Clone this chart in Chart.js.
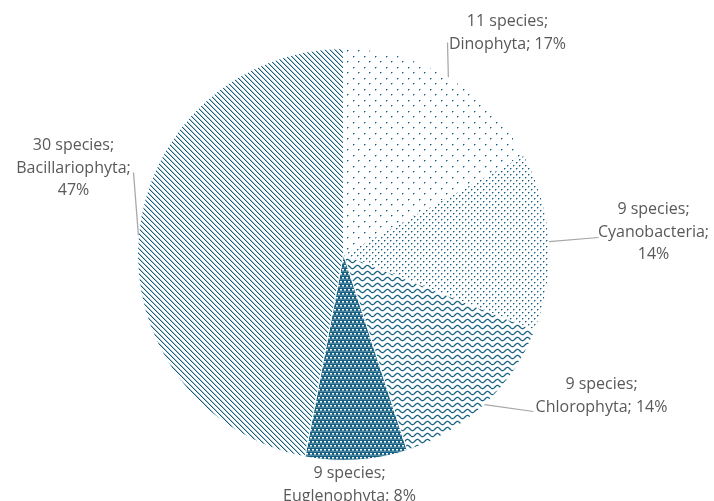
<!DOCTYPE html>
<html>
<head>
<meta charset="utf-8">
<script src="https://cdn.jsdelivr.net/npm/chart.js@4.4.1/dist/chart.umd.min.js"></script>
<style>
  html, body { margin: 0; padding: 0; background: #ffffff; }
  #wrap { width: 714px; height: 501px; position: relative; }
</style>
</head>
<body>
<div id="wrap"><canvas id="chart" width="714" height="501"></canvas></div>
<script>
// Phytoplankton groups, clockwise from 12 o'clock
const groups = ['Dinophyta', 'Cyanobacteria', 'Chlorophyta', 'Euglenophyta', 'Bacillariophyta'];
// Number of species stated in each label
const speciesCounts = [11, 9, 9, 9, 30];
// Share of each group, in percent (slice sizes)
const sharePercent = [17, 14, 14, 8, 47];
// Whether the percentage goes on its own line in the label
const percentOnOwnLine = [false, true, false, false, true];

const INK = '#156082';
const INK_SOFT = 'rgba(21,96,130,0.45)';
const TEXT = '#595959';
const LEADER = '#a6a6a6';

const canvas = document.getElementById('chart');
const ctx = canvas.getContext('2d');

function tile(w, h, paint) {
  const c = document.createElement('canvas');
  c.width = w; c.height = h;
  const g = c.getContext('2d');
  paint(g, w, h);
  return ctx.createPattern(c, 'repeat');
}

// sparse staggered dots
const dotsSparse = tile(11, 11, g => {
  g.fillStyle = INK;
  g.fillRect(1, 1, 1, 1); g.fillRect(6, 6, 1, 1);
  g.fillStyle = INK_SOFT;
  g.fillRect(2, 1, 1, 1); g.fillRect(1, 2, 1, 1);
  g.fillRect(7, 6, 1, 1); g.fillRect(6, 7, 1, 1);
});
// denser staggered dots
const dotsDense = tile(6, 6, g => {
  g.fillStyle = INK;
  g.fillRect(0, 0, 1, 1); g.fillRect(3, 3, 1, 1);
  g.fillStyle = INK_SOFT;
  g.fillRect(1, 0, 1, 1); g.fillRect(0, 1, 1, 1);
  g.fillRect(4, 3, 1, 1); g.fillRect(3, 4, 1, 1);
});
// horizontal waves
const waves = tile(10, 6, g => {
  g.strokeStyle = INK;
  g.lineWidth = 1.3;
  g.beginPath();
  for (let x = -1; x <= 11; x += 0.5) {
    const y = 3 + 1.6 * Math.sin((x / 10) * Math.PI * 2);
    if (x === -1) g.moveTo(x, y); else g.lineTo(x, y);
  }
  g.stroke();
});
// dark fill with light horizontal dashes
const darkDashes = tile(4, 8, g => {
  g.fillStyle = INK;
  g.fillRect(0, 0, 4, 8);
  g.fillStyle = '#ffffff';
  g.fillRect(0, 1, 2, 1); g.fillRect(2, 5, 2, 1);
  g.fillStyle = 'rgba(255,255,255,0.55)';
  g.fillRect(0, 2, 2, 1); g.fillRect(2, 6, 2, 1);
  g.fillStyle = 'rgba(255,255,255,0.25)';
  g.fillRect(0, 3, 4, 1); g.fillRect(0, 7, 4, 1);
});
// downward diagonal stripes
const diagonal = tile(5, 5, g => {
  for (let i = 0; i < 5; i++) {
    g.fillStyle = INK;
    g.fillRect(i, i, 1, 1);
    g.fillStyle = 'rgba(21,96,130,0.35)';
    g.fillRect((i + 1) % 5, i, 1, 1);
  }
});

const fills = [dotsSparse, dotsDense, waves, darkDashes, diagonal];

// Label placement relative to the pie centre: text centre of the first line,
// and where the leader line ends (null = no leader)
const labelLayout = [
  { dx: 164, dy: -233, leader: [104, -212] },
  { dx: 310, dy: -45, leader: [255, -17] },
  { dx: 258, dy: 130, leader: [190, 157] },
  { dx: 6, dy: 219, leader: null },
  { dx: -270, dy: -109, leader: [-210, -82] }
];
const LINE_H = 22.5;

const labelPlugin = {
  id: 'groupLabels',
  afterDatasetsDraw(chart) {
    const c = chart.ctx;
    const arcs = chart.getDatasetMeta(0).data;
    c.save();
    c.font = '16px "Open Sans", sans-serif';
    c.textAlign = 'center';
    c.textBaseline = 'middle';
    arcs.forEach((arc, i) => {
      const { x, y, startAngle, endAngle, outerRadius } = arc.getProps(['x', 'y', 'startAngle', 'endAngle', 'outerRadius'], true);
      const mid = (startAngle + endAngle) / 2;
      const L = labelLayout[i];
      if (L.leader) {
        c.strokeStyle = LEADER;
        c.lineWidth = 1.25;
        c.beginPath();
        c.moveTo(x + Math.cos(mid) * outerRadius, y + Math.sin(mid) * outerRadius);
        c.lineTo(x + L.leader[0], y + L.leader[1]);
        c.stroke();
      }
      const lines = [speciesCounts[i] + ' species;'];
      if (percentOnOwnLine[i]) {
        lines.push(groups[i] + ';', sharePercent[i] + '%');
      } else {
        lines.push(groups[i] + '; ' + sharePercent[i] + '%');
      }
      c.fillStyle = TEXT;
      lines.forEach((t, k) => c.fillText(t, x + L.dx, y + L.dy + k * LINE_H));
    });
    c.restore();
  }
};

new Chart(ctx, {
  type: 'pie',
  data: {
    labels: groups,
    datasets: [{
      data: sharePercent,
      backgroundColor: fills,
      borderColor: '#ffffff',
      borderWidth: 1
    }]
  },
  options: {
    responsive: false,
    animation: false,
    layout: { padding: { left: 137, right: 164, top: 48, bottom: 40 } },
    plugins: {
      legend: { display: false },
      tooltip: { enabled: false }
    }
  },
  plugins: [labelPlugin]
});
</script>
</body>
</html>
